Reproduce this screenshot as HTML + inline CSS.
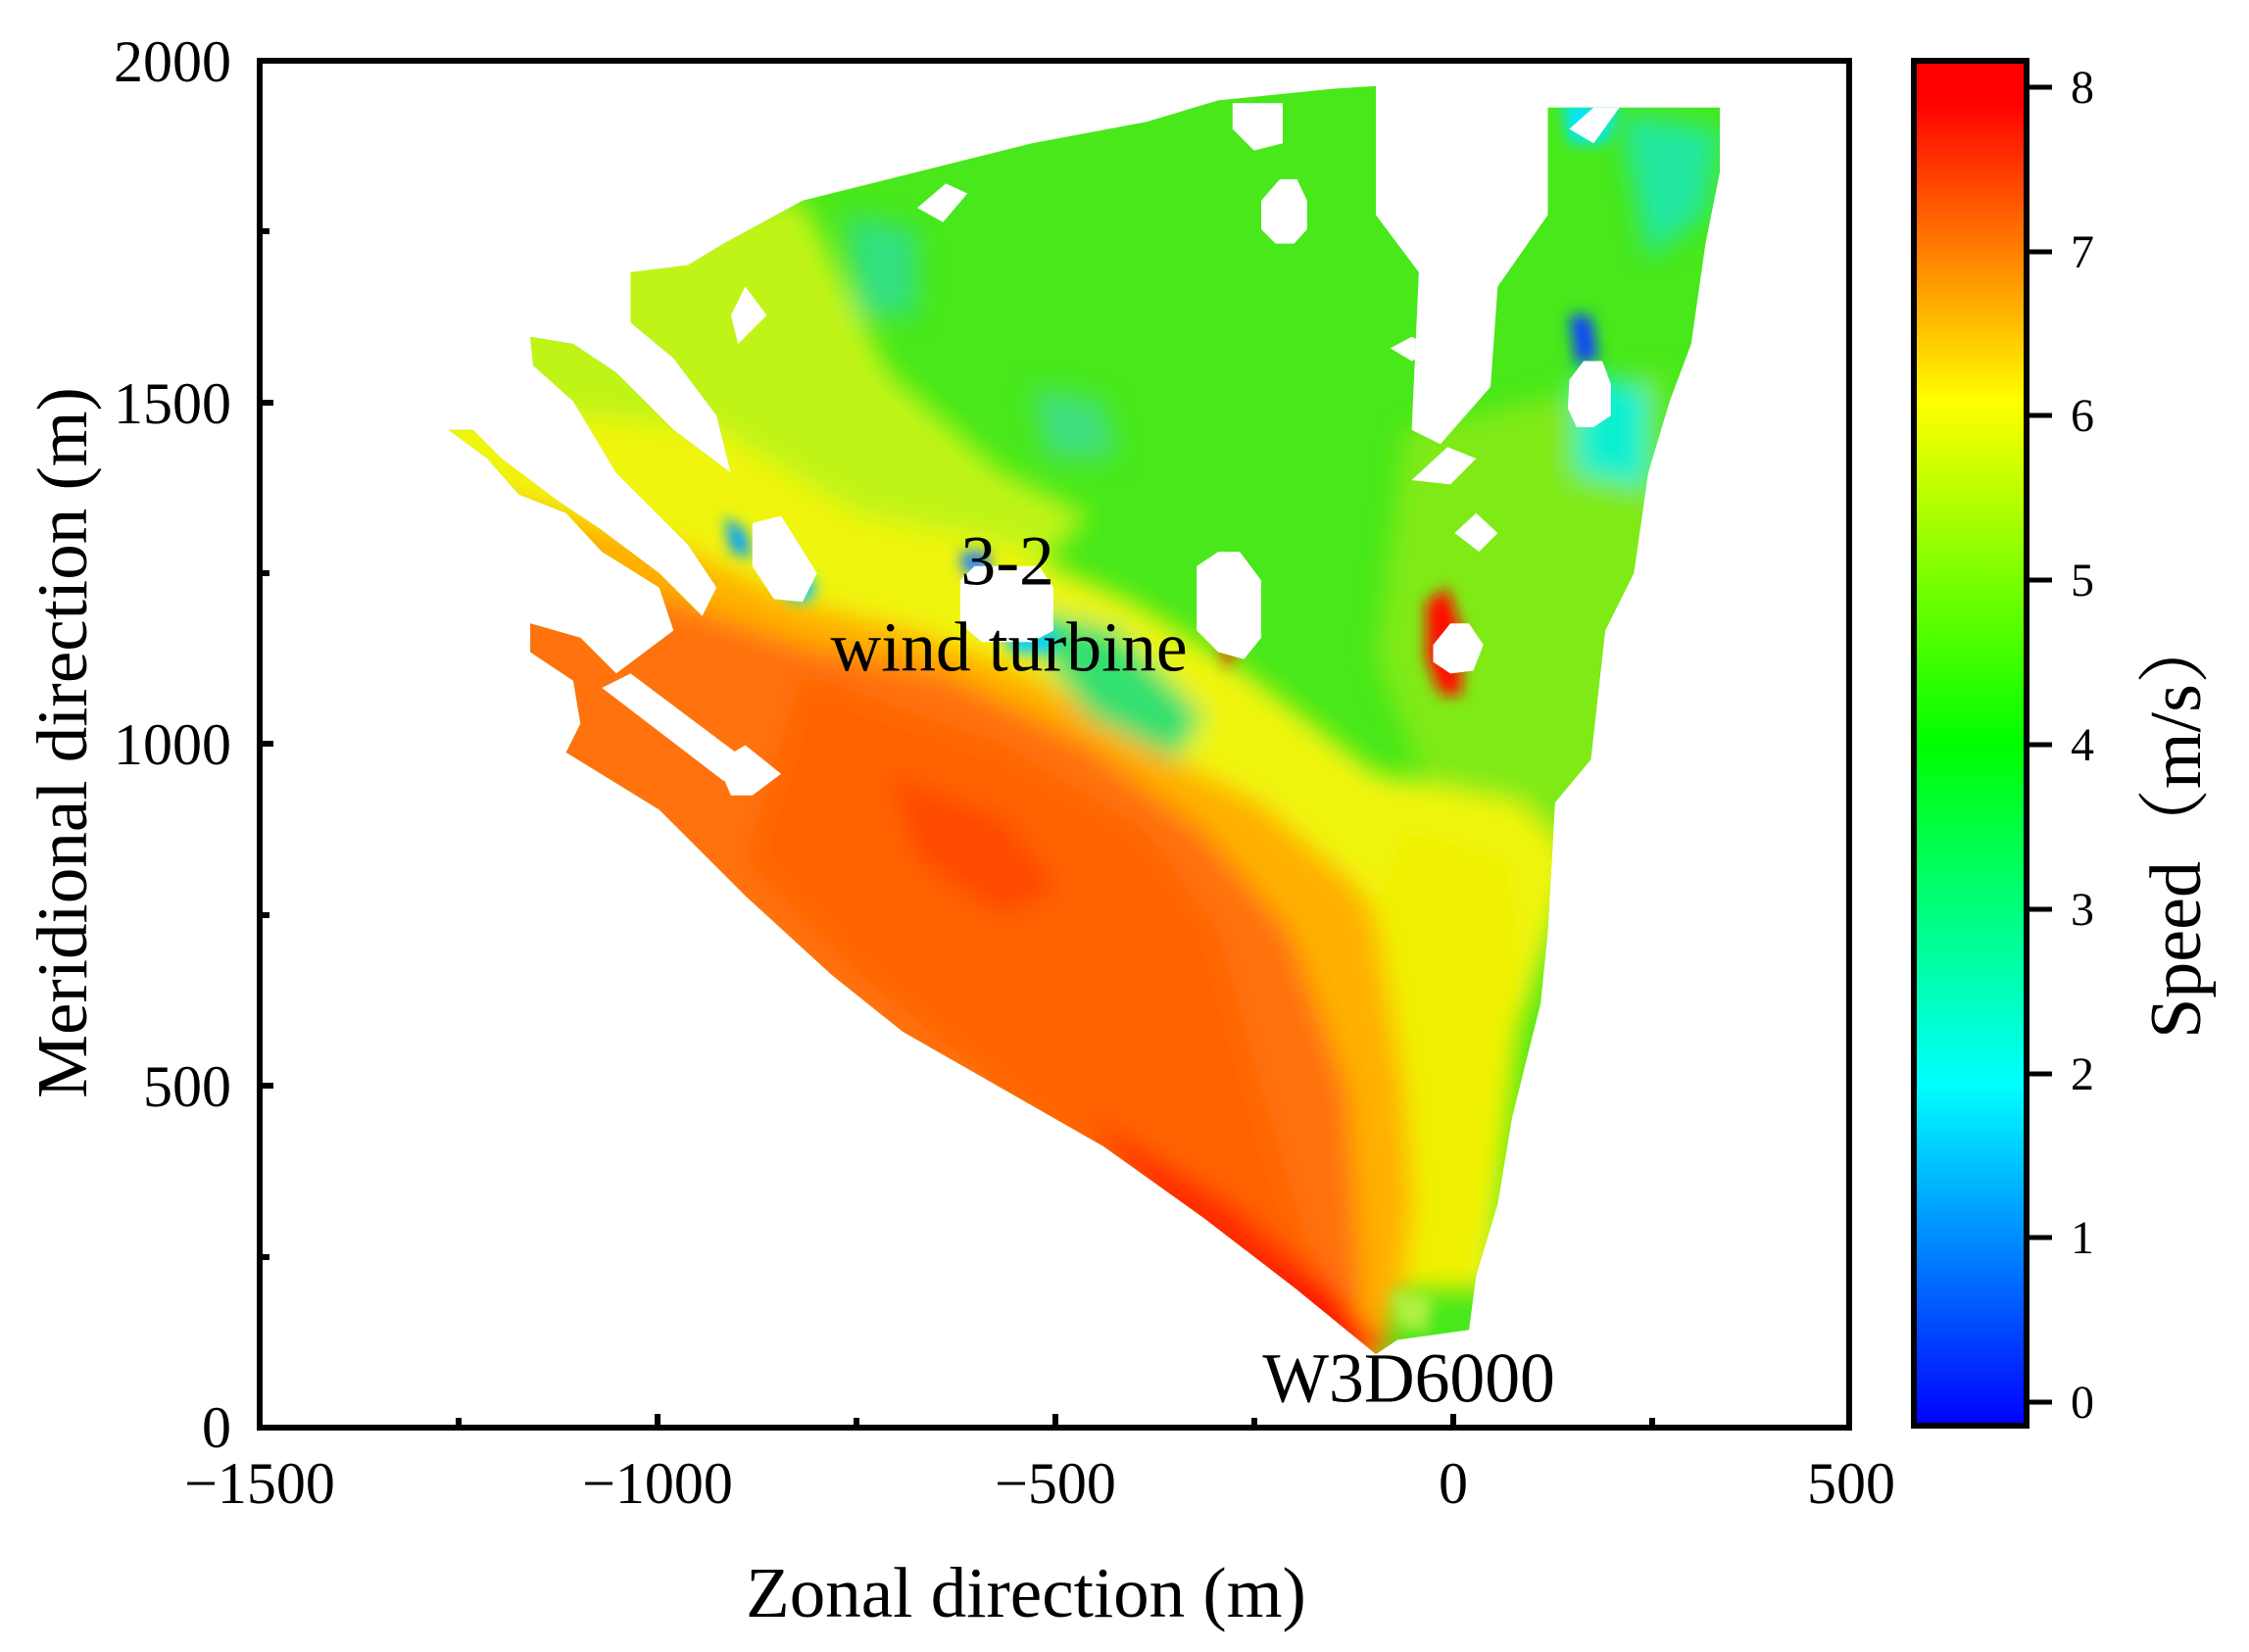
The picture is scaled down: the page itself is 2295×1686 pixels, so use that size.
<!DOCTYPE html>
<html><head><meta charset="utf-8"><style>
html,body{margin:0;padding:0;background:#fff;}
svg{display:block;}
text{font-family:"Liberation Serif",serif;fill:#000;}
</style></head><body>
<svg width="2295" height="1686" viewBox="0 0 2295 1686" xmlns="http://www.w3.org/2000/svg">
<defs>
<filter id="b" x="-20%" y="-20%" width="140%" height="140%"><feGaussianBlur stdDeviation="9"/></filter>
<filter id="b2" x="-50%" y="-50%" width="200%" height="200%"><feGaussianBlur stdDeviation="5"/></filter>
<clipPath id="outer"><polygon points="313,300 340,320 362,345 395,358 420,385 460,410 470,440 430,470 405,445 370,435 370,455 400,475 405,505 395,525 460,565 520,625 580,680 630,720 700,760 770,800 840,850 905,900 960,945 975,935 1025,928 1030,890 1045,840 1055,780 1075,700 1080,650 1085,560 1110,530 1120,440 1140,400 1150,330 1165,280 1180,240 1190,170 1200,120 1200,75 1080,75 1080,150 1045,200 1040,270 1005,310 985,300 990,190 960,150 960,60 930,62 850,70 800,85 720,100 640,120 560,140 505,170 480,185 440,190 440,225 470,250 500,290 510,330 470,300 430,260 400,240 370,235 372,255 400,280 430,330 480,380 500,410 490,430 460,400 420,370 390,350 350,320 330,300"/></clipPath>
</defs>
<g transform="scale(1.4625)">
<g clip-path="url(#outer)">
<rect x="300" y="50" width="920" height="910" fill="#48e81a"/>
<g filter="url(#b)">
<polygon points="300,150 560,140 620,260 700,330 760,360 700,420 600,400 520,360 430,300 300,260" fill="#c0f415"/>
<polygon points="980,300 1160,260 1160,520 1080,600 1000,560 960,460" fill="#80ea18"/>
<polygon points="300,280 500,300 600,360 700,380 790,420 870,470 960,540 1060,560 1100,600 1060,720 1040,900 980,900 960,760 880,640 760,540 620,470 480,440 300,400" fill="#f0f508"/>
<polygon points="300,330 470,380 560,420 640,440 720,470 800,520 880,560 950,620 990,700 990,800 980,900 960,960 300,960" fill="#ffb000"/>
<polygon points="300,380 470,420 560,450 660,470 760,520 840,580 900,650 940,760 950,900 940,950 300,960" fill="#ff7208"/>
<polygon points="560,470 700,520 800,580 850,650 880,760 910,860 940,930 820,860 700,760 600,680 520,600" fill="#ff6400"/>
<polygon points="620,540 700,570 740,620 700,640 640,600" fill="#ff4a00"/>
<polygon points="760,780 860,840 930,900 960,945 900,930 820,860" fill="#ff2a00"/>
<polygon points="880,880 930,900 970,940 940,950" fill="#ff1000"/>
<polygon points="980,580 1050,600 1060,660 1040,800 1020,900 990,900 980,760 960,640" fill="#f0f000"/>
<polygon points="700,420 780,440 840,500 820,530 760,500" fill="#30e070"/>
<polygon points="590,150 640,160 640,220 600,220" fill="#30e080"/>
<polygon points="720,270 770,280 780,320 730,320" fill="#40e080"/>
<polygon points="1130,80 1200,90 1190,150 1150,180" fill="#20e8a0"/>
<polygon points="1100,260 1150,270 1150,340 1100,330" fill="#10f0d0"/>
</g>
<g filter="url(#b2)">
<polygon points="1090,70 1130,75 1120,100 1095,100" fill="#00e8ff"/>
<polygon points="1095,220 1110,220 1115,250 1100,255" fill="#1040ff"/>
<polygon points="995,420 1010,410 1020,440 1020,485 1005,485 995,460" fill="#ff1000"/>
<polygon points="850,450 862,450 858,468" fill="#ff2000"/>
<polygon points="505,360 520,370 525,390 510,385" fill="#00a0ff"/>
<polygon points="550,400 570,405 565,420 548,418" fill="#00c8ff"/>
<polygon points="670,385 690,385 690,400 672,400" fill="#2080ff"/>
<polygon points="700,440 740,440 735,455 705,455" fill="#00d0ff"/>
<polygon points="970,900 1000,905 995,930 975,925" fill="#b0f040"/>
</g>
<g fill="#fff">
<polygon points="860,72 895,72 895,100 875,105 860,90"/>
<polygon points="880,140 893,125 905,125 912,140 912,160 903,170 890,170 880,160"/>
<polygon points="640,145 660,128 675,135 658,155"/>
<polygon points="1095,265 1105,252 1118,252 1124,268 1124,290 1112,298 1100,298 1094,285"/>
<polygon points="1095,90 1112,75 1130,75 1112,100"/>
<polygon points="835,395 850,385 865,385 880,405 880,445 868,460 850,455 835,440"/>
<polygon points="670,405 680,395 725,395 735,410 735,440 720,448 685,448 670,435"/>
<polygon points="1000,450 1012,435 1025,435 1035,450 1028,468 1012,470 1000,462"/>
<polygon points="985,335 1010,312 1030,320 1012,338"/>
<polygon points="1015,372 1030,358 1045,372 1032,385"/>
<polygon points="970,243 985,235 1000,243 985,252"/>
<polygon points="500,532 520,520 545,540 525,555 510,555"/>
<polygon points="525,365 545,360 570,400 560,420 540,418 525,395"/>
<polygon points="510,220 520,200 535,220 515,240"/>
<polygon points="420,480 440,470 520,530 505,545"/>
</g>
</g>
<text x="703" y="408" font-size="49" text-anchor="middle">3-2</text>
<text x="704" y="468" font-size="49" text-anchor="middle">wind turbine</text>
<text x="983" y="978" font-size="49" text-anchor="middle">W3D6000</text>
</g>
<!-- axes -->
<g stroke="#000" stroke-width="6" fill="none">
<rect x="265" y="62" width="1622" height="1395"/>
<path d="M265 1457v-14M468 1457v-10M671 1457v-14M874 1457v-10M1077 1457v-14M1280 1457v-10M1483 1457v-14M1686 1457v-10"/>
<path d="M265 1457h14M265 1283h10M265 1108h14M265 934h10M265 759h14M265 585h10M265 411h14M265 236h10M265 62h14"/>
</g>
<g font-size="60" text-anchor="middle">
<text x="265" y="1534">−1500</text>
<text x="671" y="1534">−1000</text>
<text x="1077" y="1534">−500</text>
<text x="1483" y="1534">0</text>
<text x="1889" y="1534">500</text>
</g>
<g font-size="60" text-anchor="end">
<text x="236" y="1477">0</text>
<text x="236" y="1129">500</text>
<text x="236" y="780">1000</text>
<text x="236" y="432">1500</text>
<text x="236" y="83">2000</text>
</g>
<text x="1047" y="1650" font-size="73" text-anchor="middle">Zonal direction (m)</text>
<text transform="translate(88,758) rotate(-90)" font-size="73" text-anchor="middle">Meridional direction (m)</text>
<!-- colorbar -->
<defs>
<linearGradient id="jet" x1="0" y1="1" x2="0" y2="0">
<stop offset="0" stop-color="#0000ff"/>
<stop offset="0.25" stop-color="#00ffff" />
<stop offset="0.5" stop-color="#00ff00"/>
<stop offset="0.75" stop-color="#ffff00"/>
<stop offset="0.97" stop-color="#ff0000"/>
<stop offset="1" stop-color="#ff0000"/>
</linearGradient>
</defs>
<rect x="1953" y="62" width="115" height="1393" fill="url(#jet)" stroke="#000" stroke-width="6"/>
<g stroke="#000" stroke-width="5">
<path d="M2068 89h26M2068 257h26M2068 424h26M2068 592h26M2068 760h26M2068 928h26M2068 1096h26M2068 1263h26M2068 1431h26"/>
</g>
<g font-size="48">
<text x="2113" y="105">8</text>
<text x="2113" y="273">7</text>
<text x="2113" y="440">6</text>
<text x="2113" y="608">5</text>
<text x="2113" y="776">4</text>
<text x="2113" y="944">3</text>
<text x="2113" y="1112">2</text>
<text x="2113" y="1279">1</text>
<text x="2113" y="1447">0</text>
</g>
<text transform="translate(2245,842) rotate(-90)" font-size="74" text-anchor="middle" style="font-family:'Liberation Serif','Noto Serif CJK SC',serif">Speed（m/s）</text>
</svg>
</body></html>
